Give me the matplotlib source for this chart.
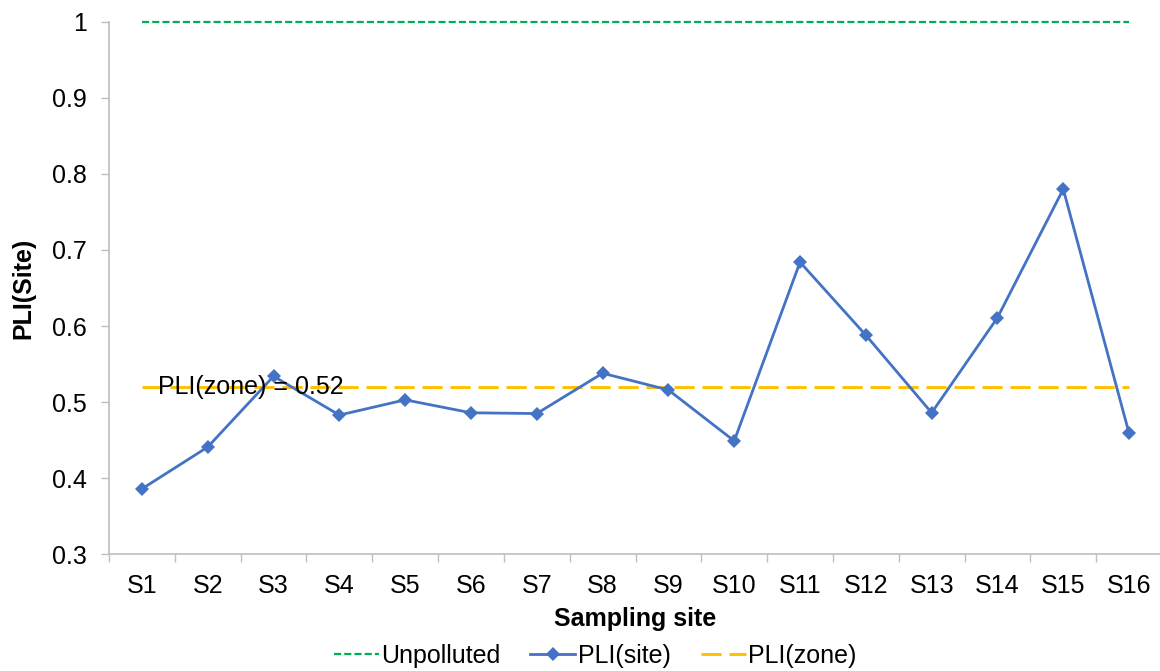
import numpy as np
import matplotlib.pyplot as plt
from matplotlib.lines import Line2D

plt.rcParams['font.family'] = ['Liberation Sans', 'DejaVu Sans']

sites = ['S1', 'S2', 'S3', 'S4', 'S5', 'S6', 'S7', 'S8',
         'S9', 'S10', 'S11', 'S12', 'S13', 'S14', 'S15', 'S16']
pli_site = [0.386, 0.441, 0.534, 0.483, 0.503, 0.486, 0.485, 0.538,
            0.516, 0.449, 0.684, 0.588, 0.486, 0.611, 0.780, 0.459]
pli_zone = 0.52
unpolluted = 1.0
y_ticks = [0.3, 0.4, 0.5, 0.6, 0.7, 0.8, 0.9, 1.0]
y_labels = ['0.3', '0.4', '0.5', '0.6', '0.7', '0.8', '0.9', '1']

green = '#00B050'
blue = '#4472C4'
gold = '#FFC000'
axis_gray = '#BFBFBF'
fs = 18

fig = plt.figure(figsize=(11.6, 6.71), dpi=100)
ax = fig.add_axes([109 / 1160, 1 - 554.3 / 671, 1053 / 1160, 532.6 / 671])

x = np.arange(len(sites))

ax.plot(x, [unpolluted] * len(x), color=green, lw=1.6, dashes=(3.2, 1.4),
        clip_on=False, zorder=2)
ax.plot(x, [pli_zone] * len(x), color=gold, lw=2.1, dashes=(6.9, 2.7), zorder=2)
ax.plot(x, pli_site, color=blue, lw=2.0, marker='D', markersize=7,
        markeredgewidth=0, zorder=3)

ax.text(0.24, pli_zone, f'PLI(zone) = {pli_zone}', fontsize=fs, va='center',
        ha='left', zorder=4)

ax.set_xlim(-0.5, len(sites) - 0.5)
ax.set_ylim(0.3, 1.0)
ax.set_yticks(y_ticks)
ax.set_yticklabels(y_labels, fontsize=fs)
ax.set_xticks(x)
ax.set_xticklabels(sites, fontsize=fs)
ax.set_xticks(np.arange(-0.5, len(sites)), minor=True)
ax.tick_params(axis='x', which='major', length=0, pad=14)
ax.tick_params(axis='x', which='minor', length=6, color=axis_gray, width=1)
ax.tick_params(axis='y', length=6, color=axis_gray, width=1, pad=10)

for side in ['top', 'right']:
    ax.spines[side].set_visible(False)
for side in ['left', 'bottom']:
    ax.spines[side].set_color(axis_gray)
    ax.spines[side].set_linewidth(1.2)

ax.set_xlabel('Sampling site', fontsize=fs, fontweight='bold', labelpad=7)
ax.set_ylabel('PLI(Site)', fontsize=fs, fontweight='bold', labelpad=12)

handles = [
    Line2D([], [], color=green, lw=1.6, dashes=(3.2, 1.4)),
    Line2D([], [], color=blue, lw=2.0, marker='D', markersize=7, markeredgewidth=0),
    Line2D([], [], color=gold, lw=2.1, dashes=(6.9, 2.7)),
]
fig.legend(handles, ['Unpolluted', 'PLI(site)', 'PLI(zone)'], loc='center',
           bbox_to_anchor=(595 / 1160, 1 - 656 / 671), ncol=3, frameon=False,
           fontsize=fs, handlelength=1.8, handletextpad=0.1, columnspacing=1.2)

fig.savefig('out.png', dpi=100)
